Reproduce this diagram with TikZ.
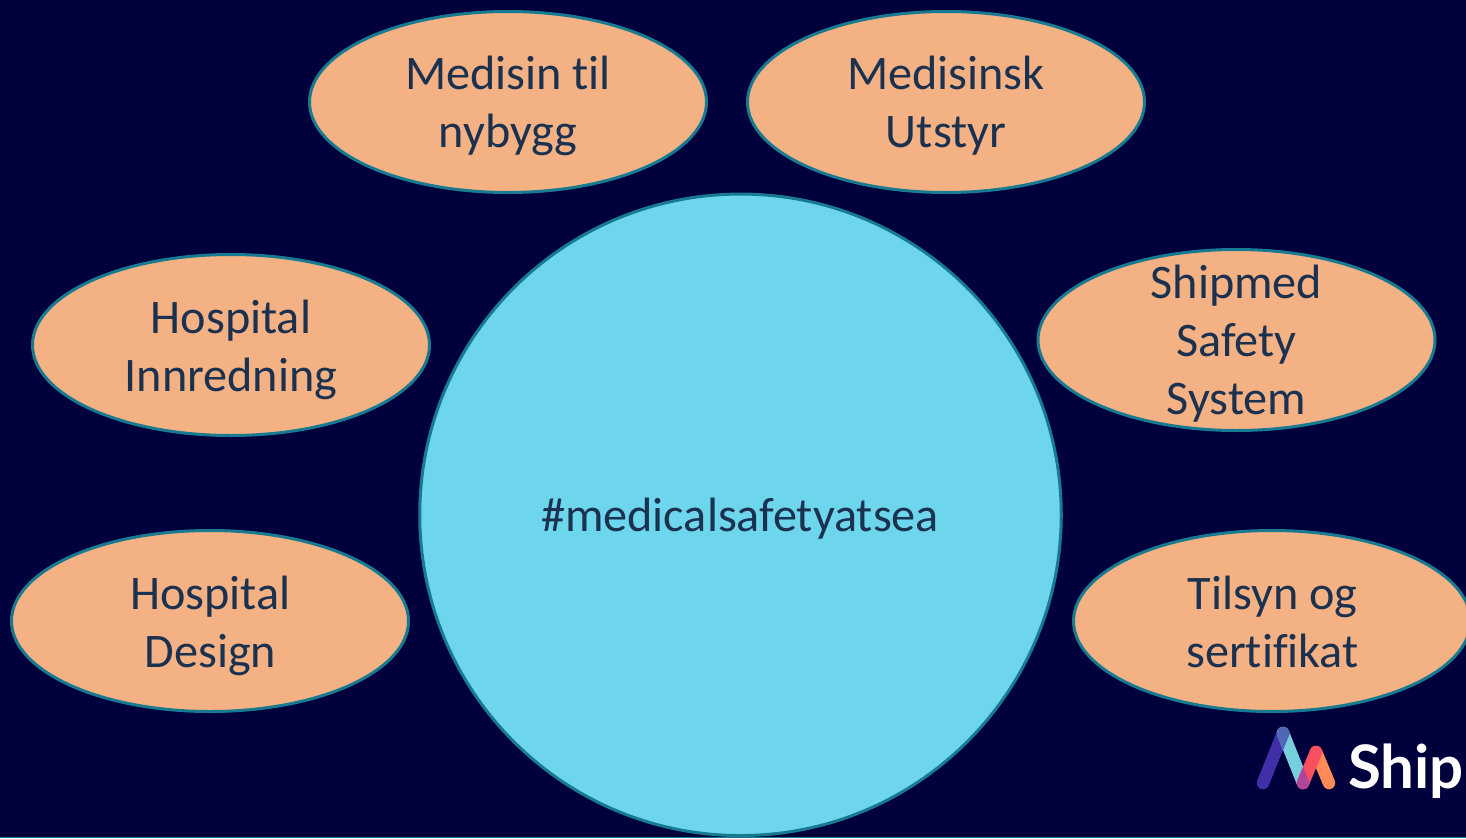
\documentclass[tikz,border=0pt]{standalone}
\usepackage{fontspec}
\setmainfont[RawFeature=-liga]{Carlito}
\newfontfamily\logofont{Lato}
\usetikzlibrary{shapes.geometric}
\definecolor{bgnavy}{HTML}{00003C}
\definecolor{peach}{HTML}{F4B183}
\definecolor{sky}{HTML}{6DD6EC}
\definecolor{rim}{HTML}{177A90}
\definecolor{ink}{HTML}{1B3150}
\definecolor{lgdark}{HTML}{4030A8}
\definecolor{lgblend}{HTML}{4F68B5}
\definecolor{lglight}{HTML}{77CEDF}
\definecolor{lgmag}{HTML}{B0459A}
\definecolor{lgred}{HTML}{F8505F}
\definecolor{lgorange}{HTML}{FF8A55}
\tikzset{
  x=1pt,y=-1pt,
  blob/.style={ellipse,draw=rim,fill=peach,line width=3pt,minimum width=397pt,minimum height=181pt,inner sep=0pt},
  hub/.style={circle,draw=rim,fill=sky,line width=3pt,minimum size=641.5pt,inner sep=0pt},
  lbl/.style={text=ink,align=center,inner sep=0pt,font=\fontsize{48.2}{58}\selectfont},
  stroke/.style={line width=12.5pt,line cap=round}
}
\begin{document}
\begin{tikzpicture}
\clip (0,0) rectangle (1466,838);
\fill[bgnavy] (0,0) rectangle (1466,838);
\fill[rim] (0,836.5) rectangle (1466,838);
\node[hub] (c) at (740.5,514.8) {};
\node[blob] (a) at (508,102) {};
\node[blob] (b) at (946,102) {};
\node[blob] (d) at (231,345) {};
\node[blob] (e) at (1236.5,340) {};
\node[blob] (f) at (210,621) {};
\node[blob] (g) at (1272,621) {};
\node[lbl] (tc) at (740,519) {\#medicalsafetyatsea};
\node[lbl] (ta) at (508,105.8) {Medisin til\\nybygg};
\node[lbl] (tb) at (946,105.8) {Medisinsk\\Utstyr};
\node[lbl] (td) at (231,349.7) {Hospital\\Innredning};
\node[lbl] (te) at (1236.5,343.8) {Shipmed\\Safety\\System};
\node[lbl] (tf) at (210.5,625.7) {Hospital\\Design};
\node[lbl] (tg) at (1272.5,622.2) {Tilsyn og\\sertifikat};
\coordinate (l1) at (1263,783);
\coordinate (l2) at (1283,733);
\coordinate (l3) at (1303,783);
\coordinate (l4) at (1316,752);
\coordinate (l5) at (1329,783);
\draw[stroke,draw=lgdark] (l1) -- (l2);
\draw[stroke,draw=lglight] (l2) -- (l3);
\begin{scope}
  \clip (1257.2,780.7) -- (1268.8,785.3) -- (1292.5,727.0) -- (1280.9,722.4) -- cycle;
  \draw[stroke,draw=lgblend] (l2) -- (l3);
\end{scope}
\draw[stroke,draw=lgorange] (l4) -- (l5);
\draw[stroke,draw=lgred] (l3) -- (l4);
\begin{scope}
  \clip (1277.2,735.3) -- (1288.8,730.7) -- (1312.5,790.0) -- (1300.9,794.6) -- cycle;
  \draw[stroke,draw=lgmag] (l3) -- (l4);
\end{scope}
\node[anchor=base west,inner sep=0pt,text=white,font=\logofont\bfseries\fontsize{60}{60}\selectfont] (ship) at (1348,788.5) {Ship};
\end{tikzpicture}
\end{document}
